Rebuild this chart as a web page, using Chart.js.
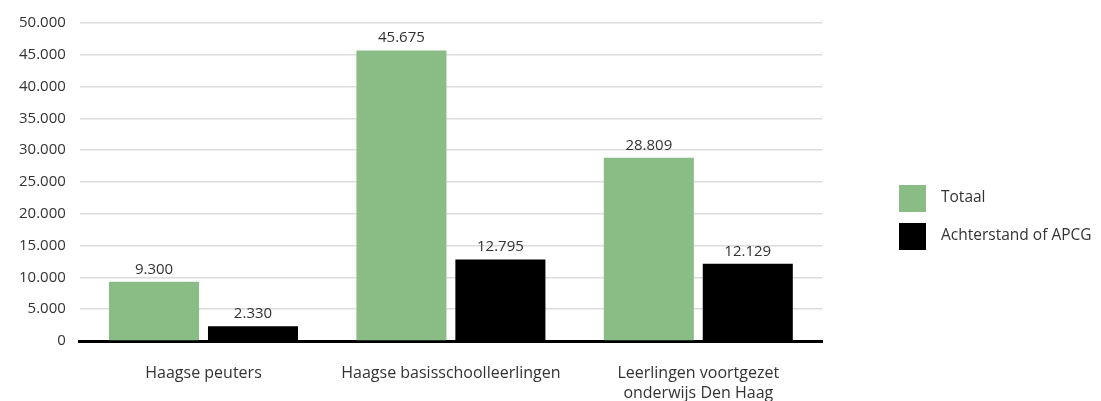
<!DOCTYPE html>
<html>
<head>
<meta charset="utf-8">
<script src="https://cdn.jsdelivr.net/npm/chart.js@4/dist/chart.umd.min.js"></script>
<style>
  html, body { margin: 0; padding: 0; background: #fff; }
  #wrap { width: 1101px; height: 401px; }
</style>
</head>
<body>
<div id="wrap"><canvas id="chart"></canvas></div>
<script>
const categories = [
  'Haagse peuters',
  'Haagse basisschoolleerlingen',
  ['Leerlingen voortgezet', 'onderwijs Den Haag']
];
const totaal = [9300, 45675, 28809];
const achterstand = [2330, 12795, 12129];
const seriesNames = ['Totaal', 'Achterstand of APCG'];
const FONT = 'Open Sans';

function fmt(v) {
  return String(v).replace(/\B(?=(\d{3})+(?!\d))/g, '.');
}

// value above each bar
const valueLabels = {
  id: 'valueLabels',
  afterDatasetsDraw(chart) {
    const ctx = chart.ctx;
    ctx.save();
    ctx.font = '15px "' + FONT + '"';
    ctx.fillStyle = '#333';
    ctx.textAlign = 'center';
    ctx.textBaseline = 'bottom';
    chart.data.datasets.forEach((ds, i) => {
      chart.getDatasetMeta(i).data.forEach((bar, j) => {
        ctx.fillText(fmt(ds.data[j]), bar.x, bar.y - 5);
      });
    });
    ctx.restore();
  }
};

// legend on the right, drawn by hand so the plot keeps its width
const sideLegend = {
  id: 'sideLegend',
  afterDraw(chart) {
    const ctx = chart.ctx;
    ctx.save();
    ctx.font = '15.5px "' + FONT + '"';
    ctx.textBaseline = 'middle';
    chart.data.datasets.forEach((ds, i) => {
      const y = 185 + i * 38;
      ctx.fillStyle = ds.backgroundColor;
      ctx.fillRect(899, y, 27, 27);
      ctx.fillStyle = '#333';
      ctx.fillText(ds.label, 941, y + 13);
    });
    ctx.restore();
  }
};

new Chart(document.getElementById('chart').getContext('2d'), {
  type: 'bar',
  data: {
    labels: categories,
    datasets: [
      { label: seriesNames[0], data: totaal, backgroundColor: '#8abd86' },
      { label: seriesNames[1], data: achterstand, backgroundColor: '#000000' }
    ]
  },
  options: {
    responsive: true,
    maintainAspectRatio: false,
    animation: false,
    layout: { padding: { top: 12, right: 279, left: 5, bottom: 0 } },
    datasets: { bar: { categoryPercentage: 0.8, barPercentage: 0.91 } },
    scales: {
      x: {
        grid: { display: false },
        border: { display: true, color: '#000', width: 3 },
        ticks: {
          color: '#333',
          font: { family: FONT, size: 16, lineHeight: 1.25 },
          padding: 14,
          maxRotation: 0
        },
        afterFit(scale) { scale.height = 60; }
      },
      y: {
        min: 0,
        max: 50000,
        grid: { color: '#dcdcdc', lineWidth: 1.5, drawTicks: false },
        border: { display: false },
        ticks: {
          stepSize: 5000,
          color: '#333',
          padding: 14,
          font: { family: FONT, size: 15 },
          callback: v => fmt(v)
        }
      }
    },
    plugins: {
      legend: { display: false },
      tooltip: { enabled: false }
    }
  },
  plugins: [valueLabels, sideLegend]
});
</script>
</body>
</html>
